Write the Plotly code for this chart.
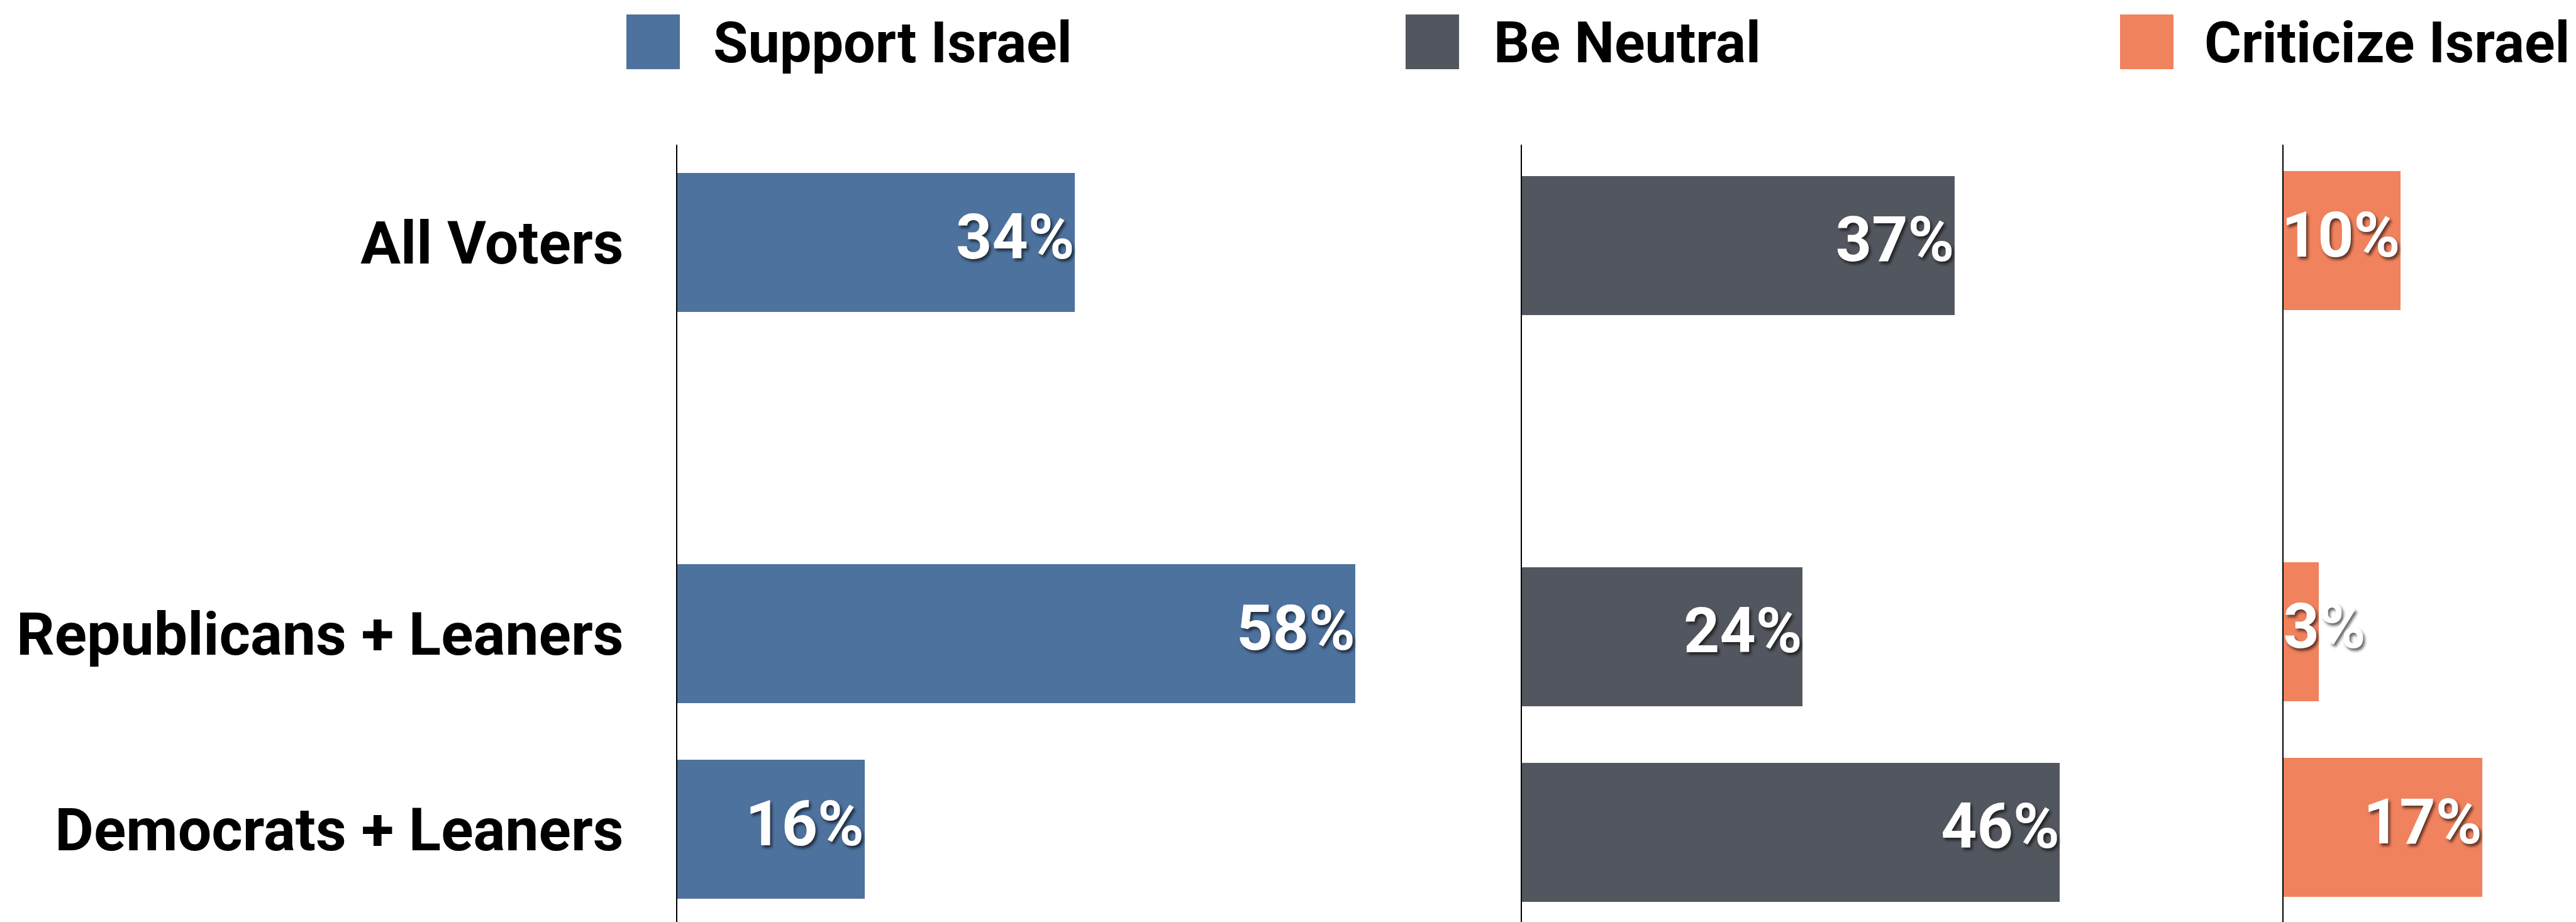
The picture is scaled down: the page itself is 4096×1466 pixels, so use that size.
import plotly.graph_objects as go

# ---------------- data ----------------
categories = ["All Voters", " ", "Republicans + Leaners", "Democrats + Leaners"]
series_names = ["Support Israel", "Be Neutral", "Criticize Israel"]
support_israel = [34, None, 58, 16]
be_neutral = [37, None, 24, 46]
criticize_israel = [10, None, 3, 17]
value_suffix = "%"

# ---------------- styling / layout constants ----------------
series_values = [support_israel, be_neutral, criticize_israel]
colors = ["#4E729E", "#52565E", "#F0825E"]

W, H = 4096, 1466
TOP = 222
PLOT_H = H - TOP
UNIT_PX = PLOT_H / 4.0
PX_PER_PCT = 18.594
axis_x_px = [1068.5, 2411.5, 3622.5]
x_max = [70, 60, 25]
y_shift_px = [0, 4.8, -2.9]
LABEL_MIN = 8          # bars narrower than this get their label started at the base
FONT = "Roboto"

legend_sq_x_px = [988, 2227, 3363]
legend_txt_x_px = [1124, 2365, 3495]
legend_sq_top, legend_sq_bot = 15, 102
legend_txt_cy = 60


def paper_y(px):
    return 1 + (TOP - px) / PLOT_H


fig = go.Figure()

for i, (name, vals, col) in enumerate(zip(series_names, series_values, colors)):
    sfx = "" if i == 0 else str(i + 1)
    xa, ya = "x" + sfx, "y" + sfx
    fig.add_trace(go.Bar(
        x=vals, y=categories, orientation="h", name=name,
        marker=dict(color=col, line=dict(width=0)), width=0.712,
        xaxis=xa, yaxis=ya, showlegend=False, hoverinfo="skip",
    ))
    fits = [v is not None and v >= LABEL_MIN for v in vals]
    text_x = [None if v is None else (v if f else 0) for v, f in zip(vals, fits)]
    text_pos = ["middle left" if f else "middle right" for f in fits]
    texts = ["" if v is None else f"{v}{value_suffix}" for v in vals]
    fig.add_trace(go.Scatter(
        x=text_x, y=categories, mode="text", text=texts, textposition=text_pos,
        textfont=dict(family=FONT, size=100, color="white", weight=700,
                      shadow="3px 4px 4px rgba(0,0,0,0.6)"),
        cliponaxis=False, xaxis=xa, yaxis=ya, showlegend=False, hoverinfo="skip",
    ))

layout = dict(
    width=W, height=H,
    margin=dict(l=0, r=0, t=TOP, b=0, pad=0),
    paper_bgcolor="white", plot_bgcolor="white",
    showlegend=False, bargap=0,
)

for i in range(3):
    sfx = "" if i == 0 else str(i + 1)
    x0 = axis_x_px[i] / W
    x1 = (axis_x_px[i] + x_max[i] * PX_PER_PCT) / W
    layout["xaxis" + sfx] = dict(
        domain=[x0, x1], range=[0, x_max[i]], visible=False,
        anchor="y" + sfx, fixedrange=True,
    )
    d = y_shift_px[i] / UNIT_PX
    layout["yaxis" + sfx] = dict(
        domain=[0, 1], type="category", categoryorder="array",
        categoryarray=categories, range=[3.5 - d, -0.5 - d],
        showline=True, linecolor="black", linewidth=2,
        showgrid=False, zeroline=False, ticks="",
        showticklabels=(i == 0), ticklabelstandoff=64,
        tickfont=dict(family=FONT, size=95, color="black", weight=700),
        anchor="x" + sfx, fixedrange=True,
    )

fig.update_layout(**layout)

# manual legend
for i, (name, col) in enumerate(zip(series_names, colors)):
    fig.add_shape(
        type="rect", xref="paper", yref="paper",
        x0=legend_sq_x_px[i] / W, x1=(legend_sq_x_px[i] + 85) / W,
        y0=paper_y(legend_sq_bot), y1=paper_y(legend_sq_top),
        fillcolor=col, line=dict(width=0),
    )
    fig.add_annotation(
        xref="paper", yref="paper", x=legend_txt_x_px[i] / W, y=paper_y(legend_txt_cy),
        xanchor="left", yanchor="middle", text=name, showarrow=False,
        font=dict(family=FONT, size=90, color="black", weight=700),
    )

fig.write_html("out.html")
